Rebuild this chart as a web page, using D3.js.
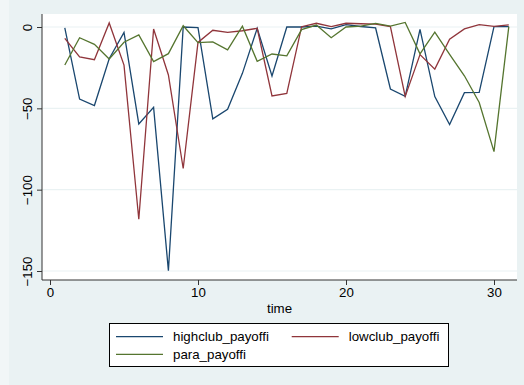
<!DOCTYPE html>
<html>
<head>
<meta charset="utf-8">
<script src="https://cdn.jsdelivr.net/npm/d3@7"></script>
<style>
  html, body { margin: 0; padding: 0; background: #eaf2f3; }
  svg { display: block; }
  text { font-family: "Liberation Sans", Arial, Helvetica, sans-serif; font-size: 13.3px; fill: #000; }
</style>
</head>
<body>
<div id="chart"></div>
<script>
// Payoff series by period
const time = [1, 2, 3, 4, 5, 6, 7, 8, 9, 10, 11, 12, 13, 14, 15, 16, 17, 18, 19, 20, 21, 22, 23, 24, 25, 26, 27, 28, 29, 30, 31];
const highclubPayoff = [-0.5, -44.3, -48.3, -19.5, -3.3, -59.6, -49.4, -149.8, 0, -0.4, -56.5, -50.6, -28.5, -0.8, -30.1, 0, 0, 0.5, -1.2, 1.5, 0.3, -0.6, -38.1, -42.6, -1.4, -42.8, -60, -40.4, -40.2, 0.2, 0.2];
const lowclubPayoff = [-7, -18.4, -20.1, 2.5, -23.4, -118.2, -1.2, -29.5, -87, -9.5, -2, -3.3, -2.3, -0.8, -42.4, -40.8, 0.2, 2.3, 0.2, 2.3, 2, 1.8, 0.2, -42.7, -17, -25.9, -7.5, -1.2, 1.4, 0.4, 1.3];
const paraPayoff = [-23.4, -6.6, -10.7, -19.7, -9.4, -4.9, -21.3, -16.4, 0.8, -9.6, -9.1, -14, 0.5, -21.1, -16.6, -17.7, -1.6, 1.2, -6.6, 0, 0.5, 2.2, 0.6, 2.8, -16.5, -3.1, -16.8, -30, -46.4, -76.6, 0.2];

const xTicks = [0, 10, 20, 30];
const yTicks = [0, -50, -100, -150];
const xTitle = "time";
const seriesNames = ["highclub_payoffi", "lowclub_payoffi", "para_payoffi"];
const seriesColors = ["#1a476f", "#90353b", "#55752f"];
const seriesValues = [highclubPayoff, lowclubPayoff, paraPayoff];

const W = 524, H = 385;
const plot = { left: 42, right: 517, top: 14, bottom: 280 };

const svg = d3.select("#chart").append("svg").attr("width", W).attr("height", H);
svg.append("rect").attr("width", W).attr("height", H).attr("fill", "#eaf2f3");
// lighter margin along the left edge
svg.append("rect").attr("width", 9).attr("height", H).attr("fill", "#f1f6f7");

const x = d3.scaleLinear().domain([0, 30]).range([50, 494]);
const y = d3.scaleLinear().domain([-150, 0]).range([271, 27]);

// plot region
svg.append("rect")
  .attr("x", plot.left).attr("y", plot.top)
  .attr("width", plot.right - plot.left).attr("height", plot.bottom - plot.top)
  .attr("fill", "#ffffff");

// horizontal grid lines
svg.append("g").selectAll("line").data(yTicks).join("line")
  .attr("x1", plot.left).attr("x2", plot.right)
  .attr("y1", d => y(d)).attr("y2", d => y(d))
  .attr("stroke", "#eaf2f3").attr("stroke-width", 1.2);

// series lines
const line = d3.line().x((d, i) => x(time[i])).y(d => y(d));
svg.append("g").selectAll("path").data(seriesValues).join("path")
  .attr("d", d => line(d))
  .attr("fill", "none")
  .attr("stroke", (d, i) => seriesColors[i])
  .attr("stroke-width", 1.3)
  .attr("stroke-linejoin", "miter");

// y axis
const yAxis = d3.axisLeft(y).tickValues(yTicks).tickSize(5).tickFormat(d => d3.format("")(d).replace("-", "\u2212"));
const gy = svg.append("g").attr("transform", `translate(${plot.left},0)`).call(yAxis);
gy.select(".domain").attr("d", `M0,${plot.top}V${plot.bottom}`).attr("stroke", "#333");
gy.selectAll(".tick line").attr("stroke", "#333");
gy.selectAll(".tick text")
  .attr("font-family", null).attr("font-size", null)
  .attr("x", null).attr("dy", null)
  .attr("text-anchor", "middle")
  .attr("transform", "translate(-10,0) rotate(-90)");

// x axis
const xAxis = d3.axisBottom(x).tickValues(xTicks).tickSize(5).tickFormat(d3.format(""));
const gx = svg.append("g").attr("transform", `translate(0,${plot.bottom})`).call(xAxis);
gx.select(".domain").attr("d", `M${plot.left},0H${plot.right}`).attr("stroke", "#333");
gx.selectAll(".tick line").attr("stroke", "#333");
gx.selectAll(".tick text")
  .attr("font-family", null).attr("font-size", null)
  .attr("y", 16.6).attr("dy", null);

svg.append("text")
  .attr("x", (plot.left + plot.right) / 2).attr("y", 313)
  .attr("text-anchor", "middle")
  .text(xTitle);

// legend
const legend = svg.append("g");
legend.append("rect")
  .attr("x", 109.5).attr("y", 323.5).attr("width", 339).attr("height", 43)
  .attr("fill", "#ffffff").attr("stroke", "#000").attr("stroke-width", 1);
const legendPos = [
  { lx: 116, ty: 341.3 },
  { lx: 291.7, ty: 341.3 },
  { lx: 116, ty: 358.9 }
];
seriesNames.forEach((name, i) => {
  const p = legendPos[i];
  legend.append("line")
    .attr("x1", p.lx).attr("x2", p.lx + 47)
    .attr("y1", p.ty - 4.6).attr("y2", p.ty - 4.6)
    .attr("stroke", seriesColors[i]).attr("stroke-width", 1.3);
  legend.append("text")
    .attr("x", p.lx + 57).attr("y", p.ty)
    .text(name);
});
</script>
</body>
</html>
